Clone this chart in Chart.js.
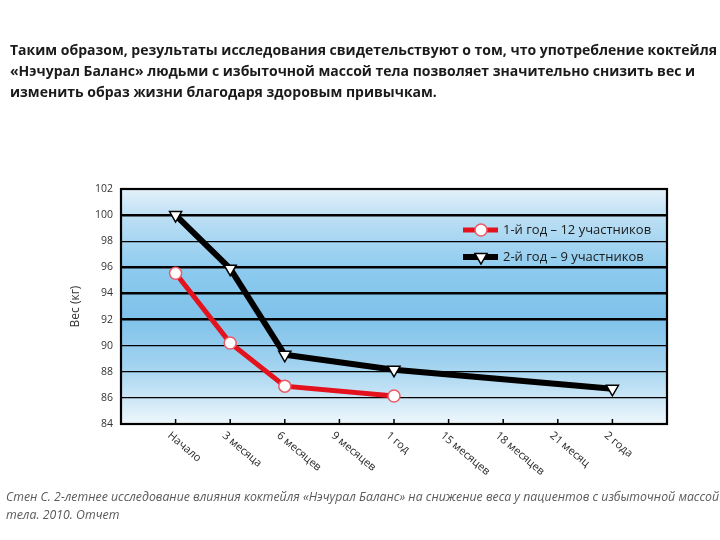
<!DOCTYPE html>
<html>
<head>
<meta charset="utf-8">
<script src="https://cdn.jsdelivr.net/npm/chart.js@4.4.1/dist/chart.umd.min.js"></script>
<style>
  body { margin: 0; background: #fff; }
  #wrap { position: relative; width: 720px; height: 540px; overflow: hidden; }
  #title { position: absolute; left: 10px; top: 39px; font: bold 14px "Open Sans", sans-serif; line-height: 21px; color: #1a1a1a; white-space: nowrap; }
  #note { position: absolute; left: 6px; top: 488px; font: italic 12.3px "Open Sans", sans-serif; line-height: 18px; color: #5a5a5a; white-space: nowrap; }
  #weight { position: absolute; left: 0; top: 0; }
</style>
</head>
<body>
<div id="wrap">
  <canvas id="weight" width="720" height="540"></canvas>
  <div id="title">Таким образом, результаты исследования свидетельствуют о том, что употребление коктейля<br>«Нэчурал Баланс» людьми с избыточной массой тела позволяет значительно снизить вес и<br>изменить образ жизни благодаря здоровым привычкам.</div>
  <div id="note">Стен С. 2-летнее исследование влияния коктейля «Нэчурал Баланс» на снижение веса у пациентов с избыточной массой<br>тела. 2010. Отчет</div>
</div>
<script>
var periods = ["Начало", "3 месяца", "6 месяцев", "9 месяцев", "1 год", "15 месяцев", "18 месяцев", "21 месяц", "2 года"];
var year1 = [95.55, 90.2, 86.9, null, 86.15, null, null, null, null];
var year2 = [100.0, 95.9, 89.3, null, 88.15, null, null, null, 86.7];
var seriesNames = ["1-й год – 12 участников", "2-й год – 9 участников"];
var weightTicks = [84, 86, 88, 90, 92, 94, 96, 98, 100, 102];

// толщина сетки как на картинке
var gridWidth = {84: 2, 86: 1.2, 88: 1.2, 90: 1.2, 92: 2.4, 94: 2.4, 96: 2.4, 98: 1.2, 100: 2.4, 102: 2};

function toPoints(arr) {
  return arr.map(function(v, i){ return {x: i, y: v}; });
}

var decor = {
  id: 'decor',
  beforeDraw: function(chart) {
    var ctx = chart.ctx, a = chart.chartArea;
    var g = ctx.createLinearGradient(0, a.top, 0, a.bottom);
    g.addColorStop(0, '#e4f1fa');
    g.addColorStop(0.12, '#bcdff4');
    g.addColorStop(0.35, '#8ccaee');
    g.addColorStop(0.55, '#7fc2ea');
    g.addColorStop(0.75, '#a2d3f0');
    g.addColorStop(0.9, '#cfe8f7');
    g.addColorStop(1, '#eef7fc');
    ctx.save();
    ctx.fillStyle = g;
    ctx.fillRect(a.left, a.top, a.right - a.left, a.bottom - a.top);
    ctx.restore();
  },
  afterDraw: function(chart) {
    var ctx = chart.ctx, a = chart.chartArea, xs = chart.scales.x;
    ctx.save();
    // рамка
    ctx.strokeStyle = '#000';
    ctx.lineWidth = 2.2;
    ctx.strokeRect(a.left, a.top, a.right - a.left, a.bottom - a.top);
    // засечки и подписи
    ctx.lineWidth = 1.5;
    ctx.fillStyle = '#2a2a2a';
    ctx.font = '11px "Open Sans", sans-serif';
    ctx.textAlign = 'left';
    ctx.textBaseline = 'top';
    periods.forEach(function(p, i) {
      var x = xs.getPixelForValue(i);
      ctx.beginPath();
      ctx.moveTo(x, a.bottom);
      ctx.lineTo(x, a.bottom - 5);
      ctx.stroke();
      ctx.save();
      ctx.translate(x - 3, a.bottom + 6);
      ctx.rotate(40 * Math.PI / 180);
      ctx.fillText(p, 0, 0);
      ctx.restore();
    });
    // легенда
    var lx = a.right - 204, ly = a.top + 41;
    chart.data.datasets.forEach(function(ds, k) {
      var y = ly + k * 27;
      ctx.strokeStyle = ds.borderColor;
      ctx.lineWidth = ds.borderWidth;
      ctx.beginPath();
      ctx.moveTo(lx, y);
      ctx.lineTo(lx + 35, y);
      ctx.stroke();
      ctx.fillStyle = ds.pointBackgroundColor;
      ctx.strokeStyle = ds.pointBorderColor;
      ctx.lineWidth = ds.pointBorderWidth;
      Chart.helpers.drawPoint(ctx, {pointStyle: ds.pointStyle, radius: ds.pointRadius, rotation: ds.pointRotation, borderWidth: ds.pointBorderWidth}, lx + 18, y);
      ctx.fillStyle = '#1a1a1a';
      ctx.font = '13px "Open Sans", sans-serif';
      ctx.textBaseline = 'middle';
      ctx.fillText(ds.label, lx + 40, y);
    });
    ctx.restore();
  }
};

new Chart(document.getElementById('weight'), {
  type: 'line',
  data: {
    datasets: [{
      label: seriesNames[0],
      data: toPoints(year1),
      borderColor: '#e3121c',
      borderWidth: 5,
      pointStyle: 'circle',
      pointRadius: 6,
      pointRotation: 0,
      pointBackgroundColor: '#ffffff',
      pointBorderColor: '#ee5a66',
      pointBorderWidth: 1.5,
      spanGaps: true,
      tension: 0
    }, {
      label: seriesNames[1],
      data: toPoints(year2),
      borderColor: '#000000',
      borderWidth: 6,
      pointStyle: 'triangle',
      pointRadius: 7,
      pointRotation: 180,
      pointBackgroundColor: '#ffffff',
      pointBorderColor: '#000000',
      pointBorderWidth: 1.5,
      spanGaps: true,
      tension: 0
    }]
  },
  options: {
    responsive: false,
    animation: false,
    layout: { padding: { left: 64, top: 189, right: 53, bottom: 0 } },
    plugins: { legend: { display: false }, tooltip: { enabled: false } },
    scales: {
      x: {
        type: 'linear',
        min: -1,
        max: 9,
        grid: { display: false },
        border: { display: false },
        ticks: { display: false },
        afterFit: function(s){ s.height = 116; }
      },
      y: {
        min: 84,
        max: 102,
        afterBuildTicks: function(s){ s.ticks = weightTicks.map(function(v){ return {value: v}; }); },
        border: { display: false },
        grid: {
          color: '#000',
          drawTicks: false,
          lineWidth: function(c){ return gridWidth[c.tick.value] || 1; }
        },
        ticks: { color: '#333', padding: 8, font: { family: 'Open Sans', size: 10.5 } },
        title: { display: true, text: 'Вес (кг)', color: '#333', font: { family: 'Open Sans', size: 12 } },
        afterFit: function(s){ s.width = 57; }
      }
    }
  },
  plugins: [decor]
});
</script>
</body>
</html>
